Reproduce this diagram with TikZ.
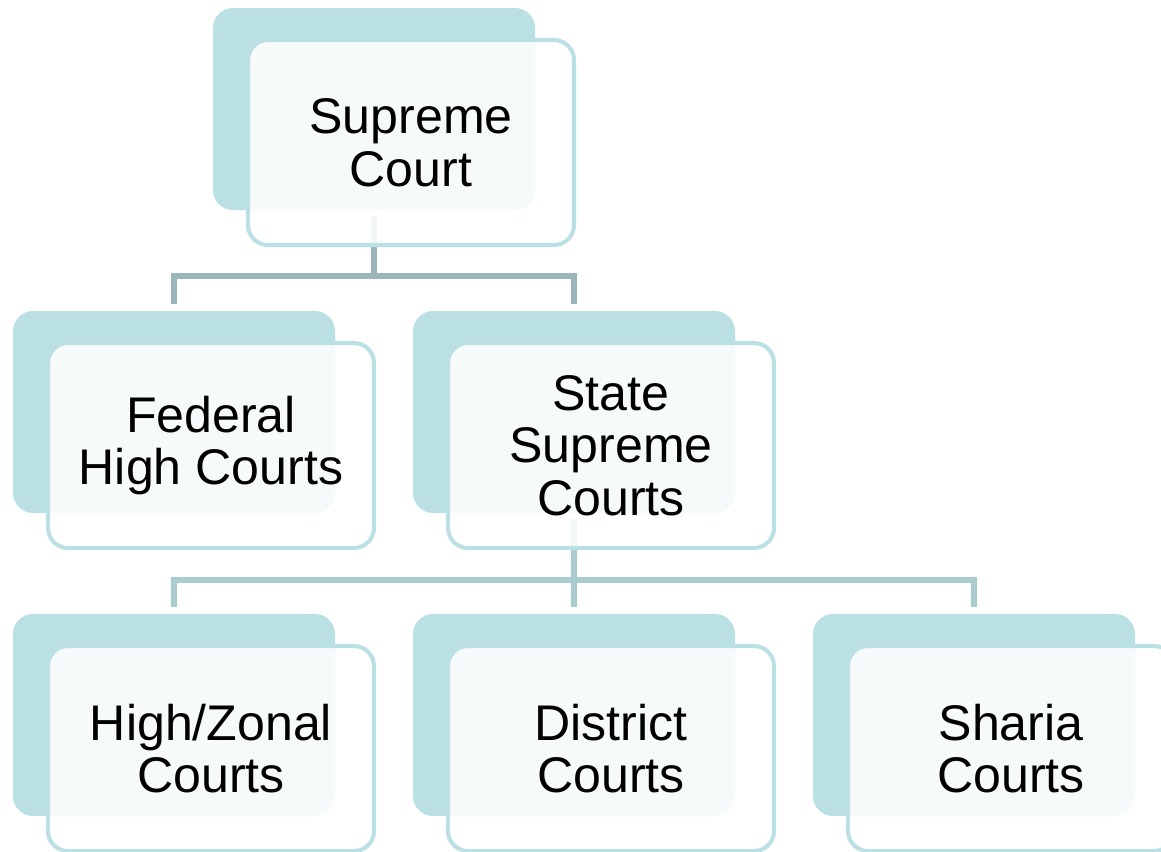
\documentclass[tikz,border=0pt]{standalone}
\usepackage{fontspec}
\setmainfont{Liberation Sans}
\usepackage{xcolor}
\usetikzlibrary{positioning}
\definecolor{backteal}{HTML}{BBE0E3}
\definecolor{linktop}{HTML}{9BB6BA}
\definecolor{linklow}{HTML}{A9CCCF}
\tikzset{
    back/.style={fill=backteal, rounded corners=0.4cm, minimum width=6.44cm,
                 minimum height=4.04cm, inner sep=0pt, outer sep=0pt},  % Shaded card behind
    front/.style={draw=backteal, line width=2.3pt, fill=white, fill opacity=0.87,
                  text opacity=1, rounded corners=0.4cm, minimum width=6.52cm,
                  minimum height=4.1cm, align=center, inner sep=0pt,
                  font=\fontsize{28.5}{30}\selectfont},                 % Card holding the text
    stem/.style={line width=3.3pt, shorten <=0.12cm},                   % Line leaving a parent
    link/.style={line width=3.3pt, shorten >=0.15cm}                    % Line reaching a child
}

\begin{document}
\begin{tikzpicture}
            \useasboundingbox (0,0) rectangle (23.22,-17.02);

            % Define back cards
            \node [back] (sc) at (7.48,-2.18) {};
            \node [back, below=2.02cm of sc, xshift=-4cm] (fhc) {};
            \node [back, below=2.02cm of sc, xshift=4cm] (ssc) {};
            \node [back, below=2.02cm of ssc] (dc) {};
            \node [back, left=1.56cm of dc] (hzc) {};
            \node [back, right=1.56cm of dc] (shc) {};

            % Junctions
            \coordinate [below=1.32cm of sc.south] (sc-j);
            \coordinate [below=1.34cm of ssc.south] (ssc-j);

            % Draw connections
            \draw [stem, linktop] (sc.south) -- (sc-j);
            \draw [link, linktop] (sc-j) -| (fhc.north);
            \draw [link, linktop] (sc-j) -| (ssc.north);
            \draw [stem, linklow] (ssc.south) -- (ssc-j);
            \draw [link, linklow] (ssc-j) -| (hzc.north);
            \draw [link, linklow] (ssc-j) -| (dc.north);
            \draw [link, linklow] (ssc-j) -| (shc.north);

            % Define front cards
            \node [front] (sc-f) at ([shift={(0.74,-0.67)}]sc) {Supreme\\Court};
            \node [front] (fhc-f) at ([shift={(0.74,-0.67)}]fhc) {Federal\\High Courts};
            \node [front] (ssc-f) at ([shift={(0.74,-0.67)}]ssc) {State\\Supreme\\Courts};
            \node [front] (hzc-f) at ([shift={(0.74,-0.67)}]hzc) {High/Zonal\\Courts};
            \node [front] (dc-f) at ([shift={(0.74,-0.67)}]dc) {District\\Courts};
            \node [front] (shc-f) at ([shift={(0.74,-0.67)}]shc) {Sharia\\Courts};
        \end{tikzpicture}
\end{document}
